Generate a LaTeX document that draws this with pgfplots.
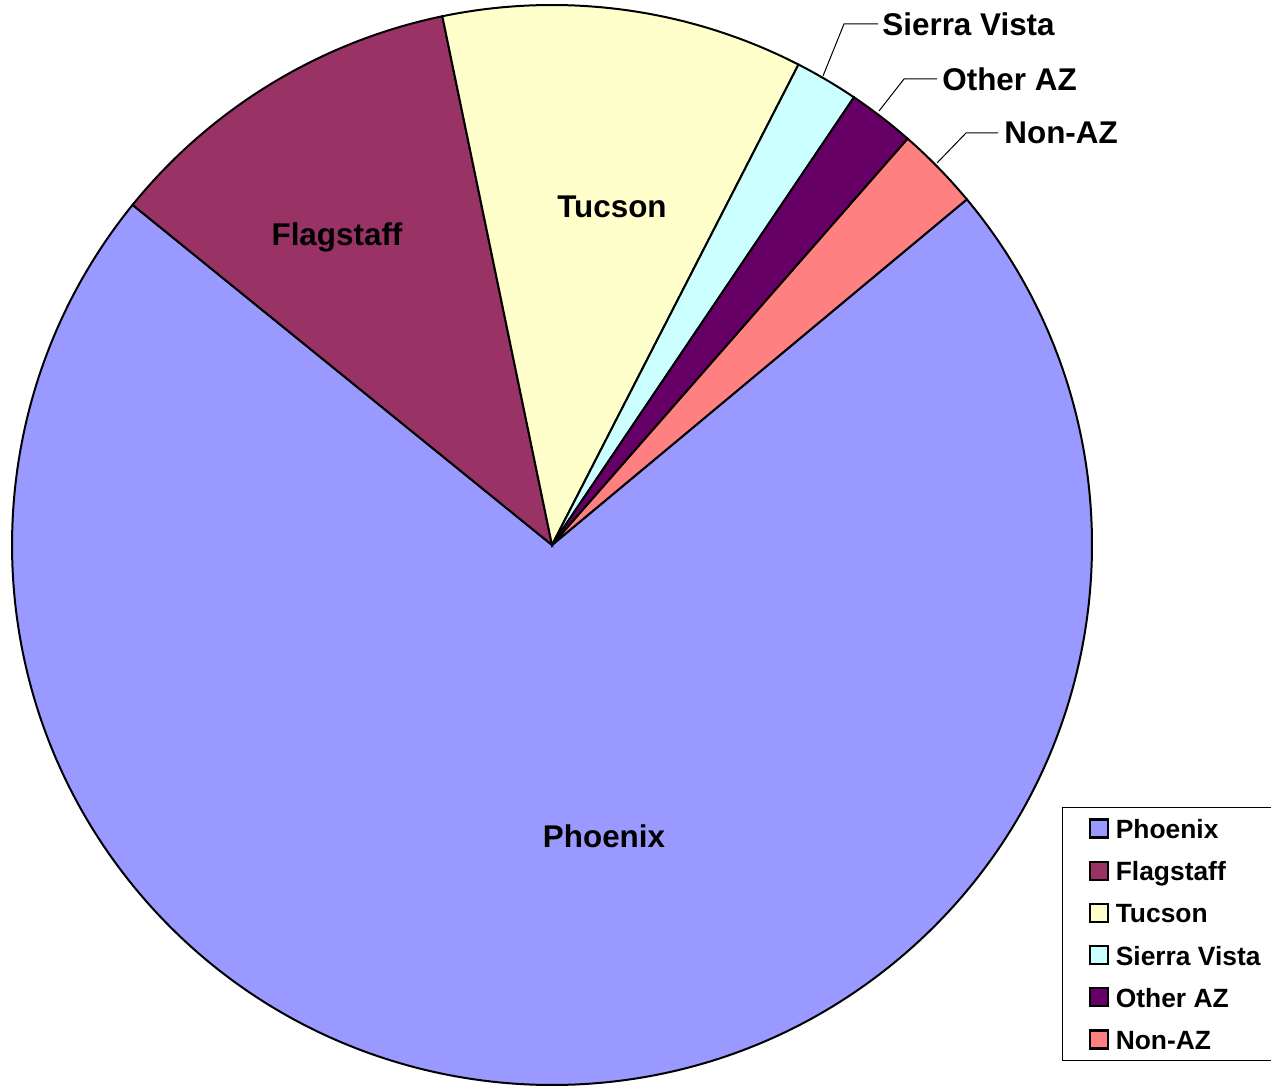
\documentclass[border=0pt]{standalone}
\usepackage{pgfplots}
\pgfplotsset{compat=1.18}
\usepackage{fontspec}
\setmainfont{Liberation Sans}
\definecolor{cPhx}{HTML}{9999FF}
\definecolor{cFlg}{HTML}{993366}
\definecolor{cTuc}{HTML}{FFFFCC}
\definecolor{cSie}{HTML}{CCFFFF}
\definecolor{cOth}{HTML}{660066}
\definecolor{cNon}{HTML}{FF8080}
\begin{document}
\begin{tikzpicture}
% shares (percent), clockwise from start angle
\def\vPhx{71.9}\def\vFlg{10.9}\def\vTuc{10.8}\def\vSie{1.9}\def\vOth{2.0}\def\vNon{2.5}
\pgfmathsetmacro\aA{39.8}
\pgfmathsetmacro\aB{\aA-3.6*\vPhx}
\pgfmathsetmacro\aC{\aB-3.6*\vFlg}
\pgfmathsetmacro\aD{\aC-3.6*\vTuc}
\pgfmathsetmacro\aE{\aD-3.6*\vSie}
\pgfmathsetmacro\aF{\aE-3.6*\vOth}
\pgfmathsetmacro\aG{\aF-3.6*\vNon}
\def\rad{270pt}
\begin{axis}[
  x=0.5pt, y=0.5pt, xmin=0, xmax=1271, ymin=0, ymax=1086,
  hide axis, clip=false,
  legend style={at={(axis cs:1062,279)}, anchor=north west, draw=black, line width=0.6pt,
    inner xsep=13pt, inner ysep=2.5pt, row sep=5.1pt,
    font=\fontsize{13.2}{15}\selectfont\bfseries,
    nodes={inner xsep=3.5pt, inner ysep=2pt, text height=11pt, text depth=1pt}},
  legend cell align=left,
  legend image code/.code={\draw[#1, draw=black, line width=1.1pt] (0pt,-4.5pt) rectangle (9pt,4.5pt);},
]
\addlegendimage{fill=cPhx}\addlegendentry{Phoenix}
\addlegendimage{fill=cFlg}\addlegendentry{Flagstaff}
\addlegendimage{fill=cTuc}\addlegendentry{Tucson}
\addlegendimage{fill=cSie}\addlegendentry{Sierra Vista}
\addlegendimage{fill=cOth}\addlegendentry{Other AZ}
\addlegendimage{fill=cNon}\addlegendentry{Non-AZ}

\filldraw[fill=cPhx, draw=black, line width=1pt] (axis cs:552,541) -- ++(\aA:\rad) arc[start angle=\aA, end angle=\aB, radius=\rad] -- cycle;
\filldraw[fill=cFlg, draw=black, line width=1pt] (axis cs:552,541) -- ++(\aB:\rad) arc[start angle=\aB, end angle=\aC, radius=\rad] -- cycle;
\filldraw[fill=cTuc, draw=black, line width=1pt] (axis cs:552,541) -- ++(\aC:\rad) arc[start angle=\aC, end angle=\aD, radius=\rad] -- cycle;
\filldraw[fill=cSie, draw=black, line width=1pt] (axis cs:552,541) -- ++(\aD:\rad) arc[start angle=\aD, end angle=\aE, radius=\rad] -- cycle;
\filldraw[fill=cOth, draw=black, line width=1pt] (axis cs:552,541) -- ++(\aE:\rad) arc[start angle=\aE, end angle=\aF, radius=\rad] -- cycle;
\filldraw[fill=cNon, draw=black, line width=1pt] (axis cs:552,541) -- ++(\aF:\rad) arc[start angle=\aF, end angle=\aG, radius=\rad] -- cycle;

\begin{scope}[font=\fontsize{15.7}{18}\selectfont\bfseries]
\node at (axis cs:604,250) {Phoenix};
\node at (axis cs:337,849) {Flagstaff};
\node at (axis cs:612,879) {Tucson};
\draw[line width=0.5pt] (axis cs:823,1010) -- (axis cs:844,1062) -- (axis cs:878,1062);
\node[anchor=west, inner sep=0pt] at (axis cs:882,1062) {Sierra Vista};
\draw[line width=0.5pt] (axis cs:879,975) -- (axis cs:904,1007) -- (axis cs:937,1007);
\node[anchor=west, inner sep=0pt] at (axis cs:942,1007) {Other AZ};
\draw[line width=0.5pt] (axis cs:937,923) -- (axis cs:966,953) -- (axis cs:998,953);
\node[anchor=west, inner sep=0pt] at (axis cs:1004,953) {Non-AZ};
\end{scope}
\end{axis}
\pgfresetboundingbox
\path (current axis.south west) rectangle (current axis.north east);
\end{tikzpicture}
\end{document}
